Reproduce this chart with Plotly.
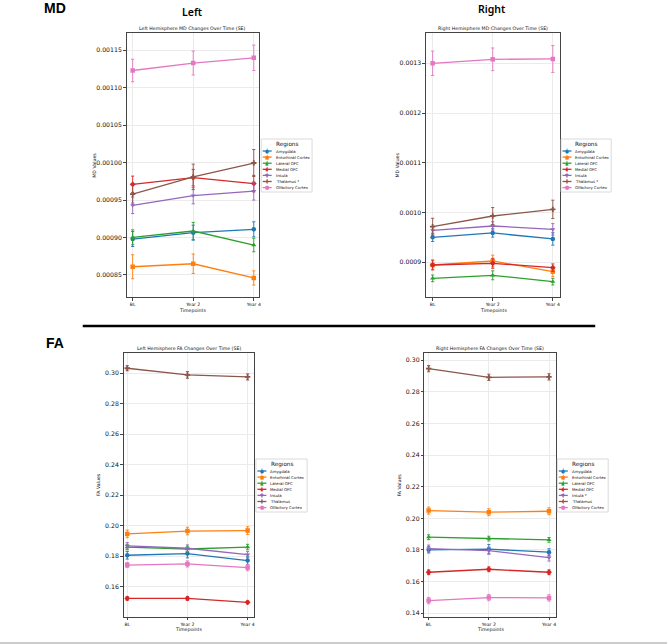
import plotly.graph_objects as go

W, H = 669, 644

timepoints = ["BL", "Year 2", "Year 4"]
colors = ["#1f77b4", "#ff7f0e", "#2ca02c", "#d62728", "#9467bd", "#8c564b", "#e377c2"]
symbols = ["circle", "square", "triangle-up", "diamond", "triangle-down", "cross", "square"]
glyphs = ["●", "■", "▲", "◆", "▼", "✚", "■"]

md_left_regions = ["Amygdala", "Entorhinal Cortex", "Lateral OFC", "Medial OFC", "Insula", "Thalamus *", "Olfactory Cortex"]
md_left_mean = [
    [0.000898, 0.0009065, 0.000911],
    [0.000861, 0.000865, 0.000846],
    [0.0009003, 0.0009087, 0.000890],
    [0.000971, 0.000980, 0.000972],
    [0.000943, 0.000956, 0.000962],
    [0.000958, 0.000981, 0.0009995],
    [0.001123, 0.001133, 0.001140],
]
md_left_se = [
    [0.0000100, 0.0000100, 0.0000100],
    [0.0000160, 0.0000130, 0.0000095],
    [0.0000100, 0.0000115, 0.0000090],
    [0.0000110, 0.0000110, 0.0000110],
    [0.0000110, 0.0000110, 0.0000120],
    [0.0000120, 0.0000170, 0.0000180],
    [0.0000150, 0.0000160, 0.0000170],
]

md_right_regions = ["Amygdala", "Entorhinal Cortex", "Lateral OFC", "Medial OFC", "Insula", "Thalamus *", "Olfactory Cortex"]
md_right_mean = [
    [0.0009503, 0.0009590, 0.0009470],
    [0.0008946, 0.0009027, 0.0008812],
    [0.0008678, 0.0008739, 0.0008611],
    [0.0008946, 0.0008980, 0.0008893],
    [0.0009643, 0.0009730, 0.0009663],
    [0.0009717, 0.0009931, 0.0010065],
    [0.0013000, 0.0013080, 0.0013087],
]
md_right_se = [
    [0.0000084, 0.0000084, 0.0000125],
    [0.0000084, 0.0000117, 0.0000100],
    [0.0000067, 0.0000090, 0.0000067],
    [0.0000100, 0.0000100, 0.0000075],
    [0.0000075, 0.0000085, 0.0000115],
    [0.0000168, 0.0000170, 0.0000184],
    [0.0000245, 0.0000228, 0.0000270],
]

fa_left_regions = ["Amygdala", "Entorhinal Cortex", "Lateral OFC", "Medial OFC", "Insula", "Thalamus", "Olfactory Cortex"]
fa_left_mean = [
    [0.1806, 0.1817, 0.1771],
    [0.1946, 0.1965, 0.1968],
    [0.1860, 0.1847, 0.1860],
    [0.1523, 0.1523, 0.1497],
    [0.1867, 0.1852, 0.1810],
    [0.3033, 0.2989, 0.2976],
    [0.1742, 0.1749, 0.1725],
]
fa_left_se = [
    [0.0025, 0.0028, 0.0025],
    [0.0025, 0.0025, 0.0025],
    [0.0018, 0.0018, 0.0018],
    [0.0012, 0.0013, 0.0010],
    [0.0022, 0.0022, 0.0020],
    [0.0017, 0.0022, 0.0020],
    [0.0017, 0.0020, 0.0020],
]

fa_right_regions = ["Amygdala", "Entorhinal Cortex", "Lateral OFC", "Medial OFC", "Insula *", "Thalamus", "Olfactory Cortex"]
fa_right_mean = [
    [0.1801, 0.1805, 0.1786],
    [0.2049, 0.2039, 0.2045],
    [0.1881, 0.1872, 0.1864],
    [0.1659, 0.1678, 0.1659],
    [0.1809, 0.1796, 0.1752],
    [0.2947, 0.2892, 0.2895],
    [0.1480, 0.1499, 0.1497],
]
fa_right_se = [
    [0.0020, 0.0030, 0.0022],
    [0.0022, 0.0022, 0.0022],
    [0.0015, 0.0015, 0.0015],
    [0.0015, 0.0015, 0.0015],
    [0.0022, 0.0022, 0.0022],
    [0.0020, 0.0020, 0.0020],
    [0.0020, 0.0020, 0.0020],
]

md_left_ticks = [0.00085, 0.00090, 0.00095, 0.00100, 0.00105, 0.00110, 0.00115]
md_right_ticks = [0.0009, 0.0010, 0.0011, 0.0012, 0.0013]
fa_left_ticks = [0.16, 0.18, 0.20, 0.22, 0.24, 0.26, 0.28, 0.30]
fa_right_ticks = [0.14, 0.16, 0.18, 0.20, 0.22, 0.24, 0.26, 0.28, 0.30]


def px(x):
    return x / W


def py(y):
    return 1 - y / H


panels = [
    dict(title="Left Hemisphere MD Changes Over Time (SE)", ytitle="MD Values",
         regions=md_left_regions, mean=md_left_mean, se=md_left_se,
         box=(127, 33, 260, 297), xr=[-0.1, 2.09], yr=[0.0008206, 0.0011731],
         ticks=md_left_ticks, fmt=".5f", ytx=94, leg=(262, 139, 313, 192)),
    dict(title="Right Hemisphere MD Changes Over Time (SE)", ytitle="MD Values",
         regions=md_right_regions, mean=md_right_mean, se=md_right_se,
         box=(427.3, 33, 561.7, 297), xr=[-0.11, 2.12], yr=[0.0008303, 0.0013609],
         ticks=md_right_ticks, fmt=".4f", ytx=397.7, leg=(562.7, 139, 613, 192)),
    dict(title="Left Hemisphere FA Changes Over Time (SE)", ytitle="FA Values",
         regions=fa_left_regions, mean=fa_left_mean, se=fa_left_se,
         box=(124, 353.3, 255, 616.7), xr=[-0.06, 2.11], yr=[0.1403, 0.3131],
         ticks=fa_left_ticks, fmt=".2f", ytx=99.3, leg=(256.7, 459, 308, 512)),
    dict(title="Right Hemisphere FA Changes Over Time (SE)", ytitle="FA Values",
         regions=fa_right_regions, mean=fa_right_mean, se=fa_right_se,
         box=(425.7, 353.3, 557.3, 616.7), xr=[-0.07, 2.11], yr=[0.1378, 0.3044],
         ticks=fa_right_ticks, fmt=".2f", ytx=401.7, leg=(559, 459, 610, 512)),
]

FONT = "DejaVu Sans"
fig = go.Figure()
annotations = []
shapes = []

for k, p in enumerate(panels, start=1):
    xa = "x" if k == 1 else f"x{k}"
    ya = "y" if k == 1 else f"y{k}"
    for i, name in enumerate(p["regions"]):
        fig.add_trace(go.Scatter(
            x=timepoints, y=p["mean"][i], name=name, xaxis=xa, yaxis=ya,
            mode="lines+markers", showlegend=False,
            line=dict(color=colors[i], width=1.3),
            marker=dict(color=colors[i], symbol=symbols[i], size=4.5, line=dict(width=0)),
            error_y=dict(type="data", array=p["se"][i], visible=True,
                         color=colors[i], thickness=0.9, width=1.6),
        ))
    x0, y0, x1, y1 = p["box"]
    axkey = "xaxis" if k == 1 else f"xaxis{k}"
    aykey = "yaxis" if k == 1 else f"yaxis{k}"
    fig.layout[axkey] = dict(
        domain=[px(x0), px(x1)], anchor=ya, type="category",
        categoryorder="array", categoryarray=timepoints, range=p["xr"],
        showgrid=True, gridcolor="#ebebeb", gridwidth=0.8,
        showline=True, mirror=True, linecolor="#444444", linewidth=1.1,
        ticks="outside", ticklen=2.5, tickcolor="#444444", tickwidth=0.8,
        tickfont=dict(family=FONT, size=4.6, color="#111111"), zeroline=False,
    )
    fig.layout[aykey] = dict(
        domain=[py(y1), py(y0)], anchor=xa, range=p["yr"],
        tickvals=p["ticks"], tickformat=p["fmt"],
        showgrid=True, gridcolor="#ebebeb", gridwidth=0.8,
        showline=True, mirror=True, linecolor="#444444", linewidth=1.1,
        ticks="outside", ticklen=2.5, tickcolor="#444444", tickwidth=0.8,
        tickfont=dict(family=FONT, size=6.2, color="#111111"), zeroline=False,
    )
    cx = (x0 + x1) / 2
    annotations.append(dict(text=p["title"], x=px(cx), y=py(y0 - 4.5), xref="paper", yref="paper",
                            showarrow=False, xanchor="center", yanchor="middle",
                            font=dict(family=FONT, size=4.7, color="#111111")))
    annotations.append(dict(text="Timepoints", x=px(cx), y=py(y1 + 13), xref="paper", yref="paper",
                            showarrow=False, xanchor="center", yanchor="middle",
                            font=dict(family=FONT, size=4.7, color="#111111")))
    annotations.append(dict(text=p["ytitle"], x=px(p["ytx"]), y=py((y0 + y1) / 2), xref="paper", yref="paper",
                            showarrow=False, xanchor="center", yanchor="middle", textangle=-90,
                            font=dict(family=FONT, size=4.7, color="#111111")))
    # legend box
    lx0, ly0, lx1, ly1 = p["leg"]
    shapes.append(dict(type="rect", xref="paper", yref="paper", x0=px(lx0), x1=px(lx1),
                       y0=py(ly1), y1=py(ly0), line=dict(color="#d0d0d0", width=0.8),
                       fillcolor="white", layer="above"))
    annotations.append(dict(text="Regions", x=px((lx0 + lx1) / 2), y=py(ly0 + 5), xref="paper", yref="paper",
                            showarrow=False, xanchor="center", yanchor="middle",
                            font=dict(family=FONT, size=5.7, color="#111111")))
    for i, name in enumerate(p["regions"]):
        yy = ly0 + 12 + i * 6.1
        shapes.append(dict(type="line", xref="paper", yref="paper", x0=px(lx0 + 1.5), x1=px(lx0 + 10.5),
                           y0=py(yy), y1=py(yy), line=dict(color=colors[i], width=1.3), layer="above"))
        shapes.append(dict(type="line", xref="paper", yref="paper", x0=px(lx0 + 6), x1=px(lx0 + 6),
                           y0=py(yy - 2.4), y1=py(yy + 2.4), line=dict(color=colors[i], width=0.8), layer="above"))
        annotations.append(dict(text=glyphs[i], x=px(lx0 + 6), y=py(yy), xref="paper", yref="paper",
                                showarrow=False, xanchor="center", yanchor="middle",
                                font=dict(family=FONT, size=4.5, color=colors[i])))
        annotations.append(dict(text=name, x=px(lx0 + 12.5), y=py(yy), xref="paper", yref="paper",
                                showarrow=False, xanchor="left", yanchor="middle",
                                font=dict(family=FONT, size=3.9, color="#111111")))

# section labels
HEAD = "Liberation Sans"
annotations.append(dict(text="<b>MD</b>", x=px(55), y=py(7.5), xref="paper", yref="paper", showarrow=False,
                        xanchor="center", yanchor="middle", font=dict(family=HEAD, size=14, color="black")))
annotations.append(dict(text="<b>FA</b>", x=px(55), y=py(342.5), xref="paper", yref="paper", showarrow=False,
                        xanchor="center", yanchor="middle", font=dict(family=HEAD, size=14, color="black")))
annotations.append(dict(text="Left", x=px(193), y=py(11.5), xref="paper", yref="paper", showarrow=False,
                        xanchor="center", yanchor="middle",
                        font=dict(family="Noto Sans", size=10.5, color="black", weight=600)))
annotations.append(dict(text="Right", x=px(493.3), y=py(9.5), xref="paper", yref="paper", showarrow=False,
                        xanchor="center", yanchor="middle",
                        font=dict(family="Noto Sans", size=10.5, color="black", weight=600)))

shapes.append(dict(type="line", xref="paper", yref="paper", x0=px(83), x1=px(597), y0=py(326), y1=py(326),
                   line=dict(color="black", width=2.5)))
shapes.append(dict(type="line", xref="paper", yref="paper", x0=0, x1=1, y0=py(643), y1=py(643),
                   line=dict(color="#999999", width=1)))

fig.update_layout(
    width=W, height=H, margin=dict(l=0, r=0, t=0, b=0),
    paper_bgcolor="white", plot_bgcolor="white",
    annotations=annotations, shapes=shapes, showlegend=False,
)

fig.write_html("out.html")
